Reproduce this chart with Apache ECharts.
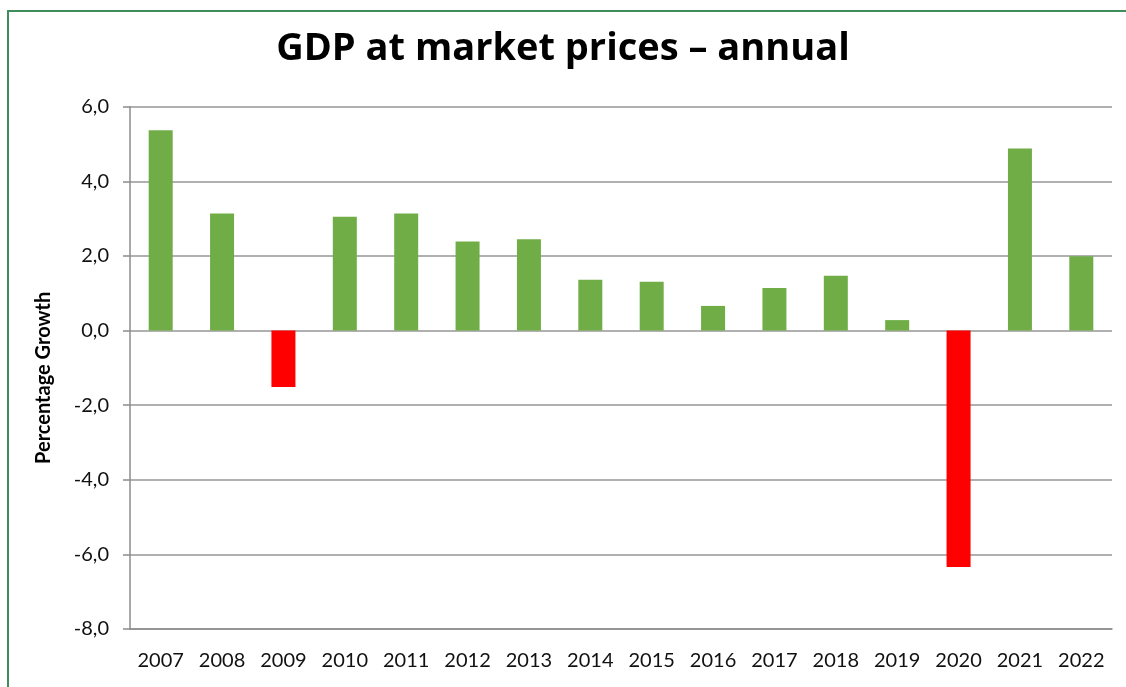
<!DOCTYPE html>
<html>
<head>
<meta charset="utf-8">
<script src="https://cdn.jsdelivr.net/npm/echarts@6/dist/echarts.min.js"></script>
<style>
html,body{margin:0;padding:0;background:#fff;}
#chart{width:1126px;height:687px;}
</style>
</head>
<body>
<div id="chart"></div>
<script>
const years = ['2007','2008','2009','2010','2011','2012','2013','2014','2015','2016','2017','2018','2019','2020','2021','2022'];
const growth = [5.37, 3.14, -1.51, 3.05, 3.14, 2.39, 2.45, 1.36, 1.31, 0.66, 1.14, 1.47, 0.28, -6.34, 4.88, 1.99];
const titleText = 'GDP at market prices \u2013 annual';
const yAxisName = 'Percentage Growth';

const chart = echarts.init(document.getElementById('chart'));
chart.setOption({
  animation: false,
  backgroundColor: '#ffffff',
  graphic: [{
    type: 'rect',
    shape: {x: 8, y: 11, width: 1300, height: 900},
    style: {fill: 'none', stroke: '#3f8c5c', lineWidth: 2},
    silent: true
  }],
  title: {
    text: titleText,
    left: 'center',
    top: 25,
    textStyle: {fontFamily: 'Open Sans', fontWeight: 'bold', fontSize: 38, color: '#000'}
  },
  grid: {left: 130, right: 14, top: 106.7, bottom: 58, containLabel: false},
  xAxis: {
    type: 'category',
    data: years,
    axisLine: {onZero: false, lineStyle: {color: '#8c8c8c', width: 1.5}},
    axisTick: {show: false},
    axisLabel: {fontFamily: 'Lato', fontSize: 20, color: '#111', margin: 22}
  },
  yAxis: {
    type: 'value',
    min: -8, max: 6, interval: 2,
    name: yAxisName,
    nameLocation: 'middle',
    nameGap: 76,
    nameTextStyle: {fontFamily: 'Lato', fontWeight: 'bold', fontSize: 20, color: '#000', padding: [0, 20, 0, 0]},
    axisLine: {show: true, lineStyle: {color: '#8c8c8c', width: 1.5}},
    axisTick: {show: true, inside: false, length: 7, lineStyle: {color: '#8c8c8c', width: 1.5}},
    axisLabel: {fontFamily: 'Lato', fontSize: 20, color: '#111', margin: 21,
      formatter: v => v.toFixed(1).replace('.', ',')},
    splitLine: {show: true, lineStyle: {color: '#969696', width: 1.5}}
  },
  series: [{
    type: 'bar',
    data: growth,
    barWidth: 24,
    itemStyle: {color: p => p.value < 0 ? '#ff0000' : '#70ad47'}
  }]
});
</script>
</body>
</html>
